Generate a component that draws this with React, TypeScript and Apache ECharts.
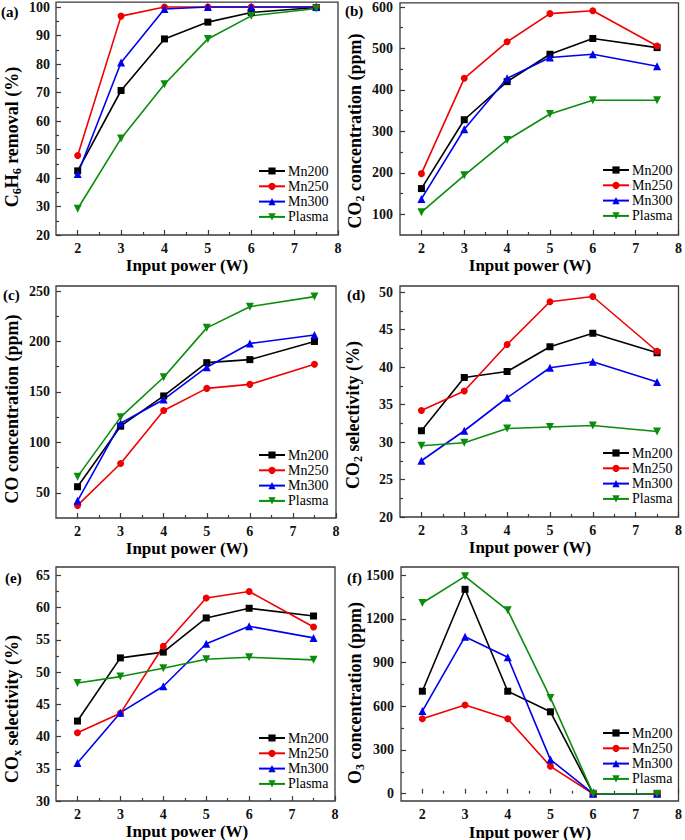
import React, { useEffect, useRef } from 'react';
import * as echarts from 'echarts';

// ---------- data ----------
const power = [2, 3, 4, 5, 6, 7.5];
const seriesNames = ['Mn200', 'Mn250', 'Mn300', 'Plasma'];
const xTicks = [2, 3, 4, 5, 6, 7, 8];
const xMinor = [2.5, 3.5, 4.5, 5.5, 6.5, 7.5];

// (a) C6H6 removal (%)
const c6h6Mn200 = [42.5, 70.7, 88.8, 94.7, 98.1, 99.8];
const c6h6Mn250 = [47.9, 96.8, 100, 100, 100, 100];
const c6h6Mn300 = [41.4, 80.5, 99.3, 100, 100, 100];
const c6h6Plasma = [29.2, 53.9, 72.9, 88.8, 96.9, 99.5];
const c6h6Ticks = [20, 30, 40, 50, 60, 70, 80, 90, 100];
const c6h6Minor = [25, 35, 45, 55, 65, 75, 85, 95];

// (b) CO2 concentration (ppm)
const co2Mn200 = [162, 328, 420, 486, 524, 502];
const co2Mn250 = [198, 428, 516, 584, 591, 506];
const co2Mn300 = [137, 305, 428, 478, 486, 457];
const co2Plasma = [105, 194, 279, 342, 375, 375];
const co2Ticks = [100, 200, 300, 400, 500, 600];
const co2Minor = [150, 250, 350, 450, 550];

// (c) CO concentration (ppm)
const coMn200 = [56, 116, 146, 179, 182, 200];
const coMn250 = [37.5, 79, 131.5, 153.5, 157.5, 177.5];
const coMn300 = [42, 119, 142.5, 174.5, 198, 206.5];
const coPlasma = [66, 125, 164.5, 213.5, 234.5, 244.5];
const coTicks = [50, 100, 150, 200, 250];
const coMinor = [75, 125, 175, 225];

// (d) CO2 selectivity (%)
const co2SelMn200 = [31.5, 38.6, 39.4, 42.7, 44.5, 41.9];
const co2SelMn250 = [34.2, 36.8, 43.0, 48.7, 49.4, 42.1];
const co2SelMn300 = [27.5, 31.5, 35.9, 39.9, 40.7, 38.0];
const co2SelPlasma = [29.5, 29.9, 31.8, 32.0, 32.2, 31.4];
const co2SelTicks = [20, 25, 30, 35, 40, 45, 50];
const co2SelMinor = [22.5, 27.5, 32.5, 37.5, 42.5, 47.5];

// (e) COx selectivity (%)
const coxSelMn200 = [42.4, 52.2, 53.1, 58.4, 59.9, 58.7];
const coxSelMn250 = [40.6, 43.6, 54.0, 61.5, 62.5, 57.0];
const coxSelMn300 = [35.9, 43.7, 47.8, 54.4, 57.1, 55.3];
const coxSelPlasma = [48.3, 49.3, 50.6, 52.0, 52.3, 51.9];
const coxSelTicks = [30, 35, 40, 45, 50, 55, 60, 65];
const coxSelMinor = [32.5, 37.5, 42.5, 47.5, 52.5, 57.5, 62.5];

// (f) O3 concentration (ppm)
const o3Mn200 = [703, 1402, 703, 562, 0, 0];
const o3Mn250 = [514, 608, 514, 188, 0, 0];
const o3Mn300 = [567, 1077, 936, 234, 0, 0];
const o3Plasma = [1308, 1491, 1258, 657, 0, 0];
const o3Ticks = [0, 300, 600, 900, 1200, 1500];
const o3Minor = [150, 450, 750, 1050, 1350];

// ---------- styling ----------
const FONT = "'Times New Roman', 'Liberation Serif', 'DejaVu Serif', serif";
const FRAME = '#3a3a3a';
const colors = ['#000000', '#f00000', '#0000f0', '#0c8c0c'];
const symbols = ['rect', 'circle', 'triangle', 'path://M0,0L10,0L5,9Z'];
const symbolSizes = [7, 7, 8, 8];

const panels = [
  {
    grid: { left: 56, top: 2, width: 282, height: 233 },
    yMin: 20, yMax: 101.7, yTicks: c6h6Ticks, yMinor: c6h6Minor,
    values: [c6h6Mn200, c6h6Mn250, c6h6Mn300, c6h6Plasma],
    yTitle: '{b|C}{s|6}{b|H}{s|6}{b| removal (%)}',
    yTitlePos: [12, 137], xTitlePos: [187, 265],
    label: '(a)', labelPos: [1, 12], legendPos: [258, 164], yLabelMargin: 6,
  },
  {
    grid: { left: 400, top: 2, width: 280, height: 233 },
    yMin: 50, yMax: 610, yTicks: co2Ticks, yMinor: co2Minor,
    values: [co2Mn200, co2Mn250, co2Mn300, co2Plasma],
    yTitle: '{b|CO}{s|2}{b| concentration (ppm)}',
    yTitlePos: [355, 131], xTitlePos: [530, 265],
    label: '(b)', labelPos: [345, 11], legendPos: [602, 163], yLabelMargin: 7,
  },
  {
    grid: { left: 56, top: 286, width: 280, height: 232 },
    yMin: 25, yMax: 255, yTicks: coTicks, yMinor: coMinor,
    values: [coMn200, coMn250, coMn300, coPlasma],
    yTitle: '{b|CO concentration (ppm)}',
    yTitlePos: [12, 409], xTitlePos: [187, 548],
    label: '(c)', labelPos: [3, 295], legendPos: [258, 448], yLabelMargin: 6,
  },
  {
    grid: { left: 400, top: 286, width: 280, height: 231 },
    yMin: 20, yMax: 50.8, yTicks: co2SelTicks, yMinor: co2SelMinor,
    values: [co2SelMn200, co2SelMn250, co2SelMn300, co2SelPlasma],
    yTitle: '{b|CO}{s|2}{b| selectivity (%)}',
    yTitlePos: [353, 415], xTitlePos: [530, 547],
    label: '(d)', labelPos: [347, 295], legendPos: [602, 446], yLabelMargin: 7,
  },
  {
    grid: { left: 56, top: 567, width: 279, height: 234 },
    yMin: 30, yMax: 66.3, yTicks: coxSelTicks, yMinor: coxSelMinor,
    values: [coxSelMn200, coxSelMn250, coxSelMn300, coxSelPlasma],
    yTitle: '{b|CO}{s|x}{b| selectivity (%)}',
    yTitlePos: [12, 709], xTitlePos: [187, 831],
    label: '(e)', labelPos: [5, 578], legendPos: [258, 731], yLabelMargin: 6,
  },
  {
    grid: { left: 401, top: 567, width: 279, height: 234 },
    yMin: -50, yMax: 1555, yTicks: o3Ticks, yMinor: o3Minor,
    values: [o3Mn200, o3Mn250, o3Mn300, o3Plasma],
    yTitle: '{b|O}{s|3}{b| concentration (ppm)}',
    yTitlePos: [355, 693], xTitlePos: [530, 832],
    label: '(f)', labelPos: [347, 578], legendPos: [602, 726], yLabelMargin: 7,
  },
];

const tickLabelStyle = {
  fontFamily: FONT,
  fontWeight: 'bold' as const,
  fontSize: 14,
  color: '#111',
};

function buildOption() {
  const grid = panels.map((p) => ({
    ...p.grid,
    show: true,
    borderColor: FRAME,
    borderWidth: 1.3,
    backgroundColor: 'transparent',
    containLabel: false,
  }));

  const xAxis: any[] = [];
  const yAxis: any[] = [];
  panels.forEach((p, i) => {
    xAxis.push({
      type: 'value', gridIndex: i, min: 1.5, max: 8, position: 'bottom',
      axisLine: { show: false }, splitLine: { show: false },
      axisTick: { show: true, inside: true, length: 5, customValues: xTicks, lineStyle: { color: FRAME, width: 1.2 } },
      axisLabel: { show: true, customValues: xTicks, margin: 6, formatter: (v: number) => String(v), ...tickLabelStyle },
    });
    xAxis.push({
      type: 'value', gridIndex: i, min: 1.5, max: 8, position: 'bottom',
      axisLine: { show: false }, splitLine: { show: false },
      axisTick: { show: true, inside: true, length: 3, customValues: xMinor, lineStyle: { color: FRAME, width: 1.2 } },
      axisLabel: { show: false },
    });
    yAxis.push({
      type: 'value', gridIndex: i, min: p.yMin, max: p.yMax, position: 'left',
      axisLine: { show: false }, splitLine: { show: false },
      axisTick: { show: true, inside: true, length: 5, customValues: p.yTicks, lineStyle: { color: FRAME, width: 1.2 } },
      axisLabel: { show: true, customValues: p.yTicks, margin: p.yLabelMargin, formatter: (v: number) => String(v), ...tickLabelStyle },
    });
    yAxis.push({
      type: 'value', gridIndex: i, min: p.yMin, max: p.yMax, position: 'left',
      axisLine: { show: false }, splitLine: { show: false },
      axisTick: { show: true, inside: true, length: 3, customValues: p.yMinor, lineStyle: { color: FRAME, width: 1.2 } },
      axisLabel: { show: false },
    });
  });

  const series: any[] = [];
  panels.forEach((p, i) => {
    p.values.forEach((vals, k) => {
      series.push({
        type: 'line',
        name: seriesNames[k],
        xAxisIndex: 2 * i,
        yAxisIndex: 2 * i,
        data: power.map((x, j) => [x, vals[j]]),
        symbol: symbols[k],
        symbolSize: symbolSizes[k],
        showAllSymbol: true,
        itemStyle: { color: colors[k] },
        lineStyle: { color: colors[k], width: 1.6 },
        clip: false,
      });
    });
  });

  const legend = panels.map((p) => ({
    data: seriesNames,
    orient: 'vertical',
    left: p.legendPos[0],
    top: p.legendPos[1],
    padding: 0,
    itemWidth: 26,
    itemHeight: 9,
    itemGap: 1.3,
    selectedMode: false,
    textStyle: { fontFamily: FONT, fontSize: 14, color: '#000', lineHeight: 14, padding: [0, 0, 0, -2] },
  }));

  const graphic: any[] = [];
  panels.forEach((p) => {
    graphic.push({
      type: 'text',
      x: p.yTitlePos[0],
      y: p.yTitlePos[1],
      rotation: Math.PI / 2,
      style: {
        text: p.yTitle,
        align: 'center',
        verticalAlign: 'middle',
        rich: {
          b: { fontFamily: FONT, fontWeight: 'bold', fontSize: 18, lineHeight: 22, fill: '#000', verticalAlign: 'middle' },
          s: { fontFamily: FONT, fontWeight: 'bold', fontSize: 12, lineHeight: 22, fill: '#000', verticalAlign: 'bottom' },
        },
      },
    });
    graphic.push({
      type: 'text',
      x: p.xTitlePos[0],
      y: p.xTitlePos[1],
      style: {
        text: 'Input power (W)',
        align: 'center',
        verticalAlign: 'middle',
        fontFamily: FONT,
        fontWeight: 'bold',
        fontSize: 17,
        fill: '#000',
      },
    });
    graphic.push({
      type: 'text',
      x: p.labelPos[0],
      y: p.labelPos[1],
      style: {
        text: p.label,
        align: 'left',
        verticalAlign: 'middle',
        fontFamily: FONT,
        fontWeight: 'bold',
        fontSize: 15,
        fill: '#000',
      },
    });
  });

  return {
    animation: false,
    backgroundColor: '#ffffff',
    grid,
    xAxis,
    yAxis,
    series,
    legend,
    graphic,
  };
}

export default function App() {
  const ref = useRef<HTMLDivElement | null>(null);
  useEffect(() => {
    if (!ref.current) return;
    const chart = echarts.init(ref.current, undefined, { renderer: 'svg' });
    chart.setOption(buildOption() as any);
    return () => {
      chart.dispose();
    };
  }, []);
  return (
    <div
      ref={ref}
      style={{ position: 'absolute', left: 0, top: 0, width: 685, height: 840, background: '#fff' }}
    />
  );
}
